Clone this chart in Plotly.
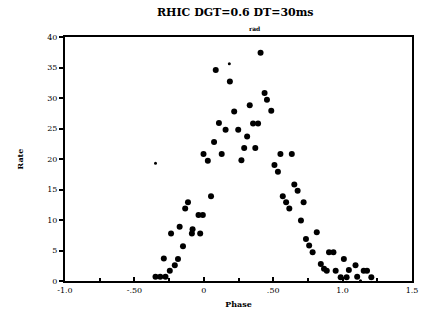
import plotly.graph_objects as go

# Main data points (phase, rate)
x_vals = [0.409, 0.086, 0.188, 0.438, 0.455, 0.331, 0.219, 0.486, 0.109, 0.157,
          0.248, 0.355, 0.391, 0.312, 0.074, 0.291, 0.371, -0.002, 0.029, 0.129,
          0.271, 0.052, -0.114, -0.134, -0.038, -0.007, -0.174, -0.236, -0.081, -0.086,
          -0.026, -0.150, -0.288, -0.186, -0.209, -0.245, -0.348, -0.314, -0.276,
          0.552, 0.634, 0.509, 0.534, 0.652, 0.676, 0.569, 0.593, 0.616, 0.719,
          0.700, 0.814, 0.736, 0.759, 0.784, 0.902, 0.934, 1.009, 0.843, 0.866,
          1.093, 0.950, 0.886, 1.045, 1.152, 1.176, 0.986, 1.029, 1.105, 1.207]
y_vals = [37.4, 34.6, 32.7, 30.8, 29.7, 28.8, 27.8, 27.9, 25.9, 24.8,
          24.8, 25.8, 25.8, 23.7, 22.8, 21.8, 21.8, 20.8, 19.7, 20.8,
          19.8, 13.9, 12.9, 11.9, 10.8, 10.8, 8.9, 7.8, 8.5, 7.8,
          7.8, 5.7, 3.7, 3.6, 2.6, 1.7, 0.7, 0.7, 0.7,
          20.8, 20.8, 19.0, 17.9, 15.8, 14.8, 13.9, 12.9, 11.9, 12.9,
          9.9, 8.0, 6.9, 5.8, 4.7, 4.7, 4.7, 3.6, 2.8, 2.0,
          2.6, 1.7, 1.7, 1.8, 1.7, 1.7, 0.6, 0.6, 0.7, 0.6]

# Small stray dots
x_small = [0.184, -0.348, 1.129]
y_small = [35.6, 19.3, 0.05]

x_ticks = [-1.0, -0.5, 0, 0.5, 1.0, 1.5]
x_tick_text = ["-1.0", "-.50", "0", ".50", "1.0", "1.5"]
y_ticks = [0, 5, 10, 15, 20, 25, 30, 35, 40]

fig = go.Figure()
fig.add_trace(go.Scatter(x=x_vals, y=y_vals, mode="markers",
                         marker=dict(color="black", size=6, line=dict(width=0)),
                         showlegend=False, hoverinfo="skip"))
fig.add_trace(go.Scatter(x=x_small, y=y_small, mode="markers",
                         marker=dict(color="black", size=3, line=dict(width=0)),
                         showlegend=False, hoverinfo="skip"))

fnt = dict(family="DejaVu Serif", color="black")
fig.update_layout(
    width=430, height=320,
    margin=dict(l=65, r=14, t=37, b=38),
    paper_bgcolor="white", plot_bgcolor="white",
    title=dict(text="<b>RHIC DGT=0.6 DT=30ms</b>", x=0.547, xanchor="center",
               y=0.962, yanchor="middle", font=dict(size=11, **fnt)),
    xaxis=dict(range=[-1.0, 1.5], tickvals=x_ticks, ticktext=x_tick_text,
               showgrid=False, zeroline=False, showline=True, linecolor="black",
               linewidth=2, mirror=True, ticks="inside", ticklen=4, tickwidth=1.5,
               tickcolor="black", minor=dict(ticks="inside", ticklen=3, dtick=0.25,
                                             tickcolor="black"),
               tickfont=dict(size=8, **fnt),
               title=dict(text="<b>Phase</b>", font=dict(size=8, **fnt), standoff=8)),
    yaxis=dict(range=[0, 40], tickvals=y_ticks, showgrid=False, zeroline=False,
               showline=True, linecolor="black", linewidth=2, mirror=True,
               ticks="outside", ticklen=4, tickwidth=1.5, tickcolor="black",
               tickfont=dict(size=8, **fnt),
               title=dict(text="<b>Rate</b>", font=dict(size=8, **fnt), standoff=22)),
)
fig.add_annotation(text="<b>rad</b>", xref="paper", yref="paper", x=0.547, y=1.0,
                   yanchor="bottom", yshift=3, showarrow=False,
                   font=dict(size=6, **fnt))

fig.write_html("out.html")
